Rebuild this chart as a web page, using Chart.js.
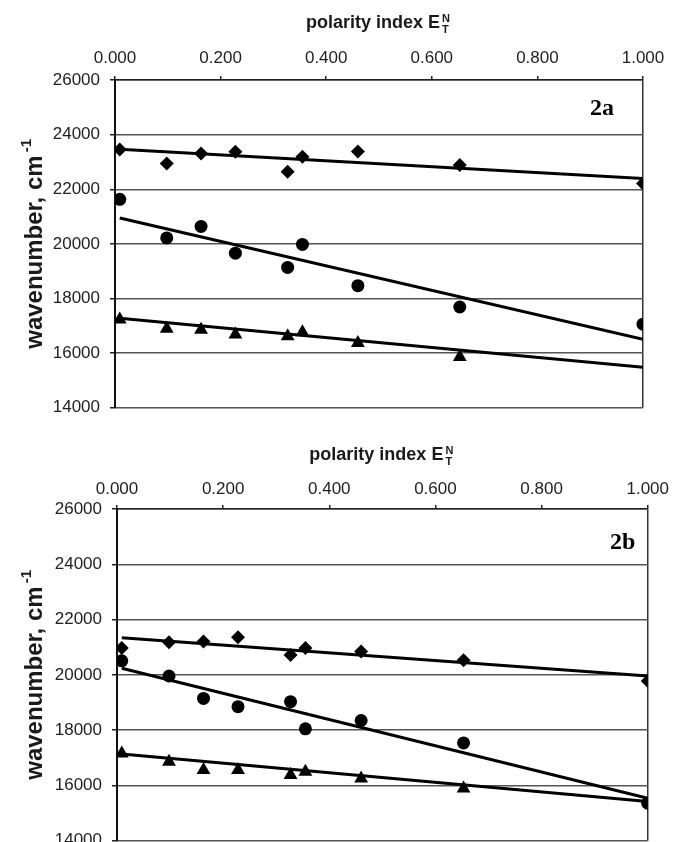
<!DOCTYPE html>
<html>
<head>
<meta charset="utf-8">
<script src="https://cdn.jsdelivr.net/npm/chart.js@4.4.1/dist/chart.umd.min.js"></script>
<style>
  html, body { margin: 0; padding: 0; background: #fff; }
  #wrap { position: relative; width: 674px; height: 842px; overflow: hidden; }
  canvas { position: absolute; left: 0; }
  #cA { top: 0; }
  #cB { top: 420px; }
</style>
</head>
<body>
<div id="wrap">
  <canvas id="cA" width="674" height="428"></canvas>
  <canvas id="cB" width="674" height="441"></canvas>
</div>
<script>
// ---- data ----
const polarity = [0.009, 0.098, 0.163, 0.228, 0.327, 0.355, 0.460, 0.653, 1.000];
const fitX = [0.009, 1.000];

// panel 2a
const diamondA  = [23460, 22940, 23310, 23370, 22640, 23190, 23380, 22890, 22210];
const circleA   = [21630, 20220, 20640, 19660, 19140, 19980, 18470, 17690, 17060];
const triangleA = [17230, 16890, 16860, 16680, 16620, 16770, 16370, 15860, null];
const fitDiamondA  = [23466, 22398];
const fitCircleA   = [20947, 16505];
const fitTriangleA = [17278, 15485];

// panel 2b
const diamondB  = [20970, 21180, 21210, 21360, 20720, 20970, 20850, 20530, 19780];
const circleB   = [20510, 19960, 19150, 18850, 19030, 18050, 18350, 17540, 15360];
const triangleB = [17160, 16860, 16560, 16560, 16380, 16500, 16250, 15890, null];
const fitDiamondB  = [21345, 19964];
const fitCircleB   = [20242, 15539];
const fitTriangleB = [17140, 15418];

const xTicks = [0, 0.2, 0.4, 0.6, 0.8, 1.0];
const yTicks = [14000, 16000, 18000, 20000, 22000, 24000, 26000];

const xTitleMain = 'polarity index E';
const xTitleSup = 'N';
const xTitleSub = 'T';
const yTitleMain = 'wavenumber, cm';
const yTitleSup = '-1';

// ---- helpers ----
function pts(xs, ys) {
  const out = [];
  xs.forEach((x, i) => { if (ys[i] !== null && ys[i] !== undefined) out.push({ x: x, y: ys[i] }); });
  return out;
}

function pointSet(xs, ys, style, radius) {
  return {
    data: pts(xs, ys), showLine: false, pointStyle: style,
    pointRadius: radius, pointHoverRadius: radius,
    backgroundColor: '#000', borderColor: '#000', borderWidth: 0
  };
}
function lineSet(ys) {
  return {
    data: pts(fitX, ys), showLine: true, pointRadius: 0,
    borderColor: '#000', borderWidth: 3, fill: false
  };
}

const FONT = '"Liberation Sans", Arial, sans-serif';

const textPlugin = {
  id: 'panelText',
  afterDraw(chart, args, opts) {
    const ctx = chart.ctx;
    const ca = chart.chartArea;
    ctx.save();
    ctx.fillStyle = '#1a1a1a';
    // x title with stacked superscript/subscript
    ctx.font = 'bold 18px ' + FONT;
    const wMain = ctx.measureText(xTitleMain).width;
    const total = wMain + 12;
    const cx = (ca.left + ca.right) / 2;
    const x0 = cx - total / 2;
    ctx.textBaseline = 'alphabetic';
    ctx.textAlign = 'left';
    ctx.fillText(xTitleMain, x0, opts.xTitleY);
    ctx.font = 'bold 11px ' + FONT;
    ctx.fillText(xTitleSup, x0 + wMain + 2, opts.xTitleY - 6);
    ctx.fillText(xTitleSub, x0 + wMain + 2, opts.xTitleY + 5);

    // y title rotated
    ctx.translate(opts.yTitleX, (ca.top + ca.bottom) / 2);
    ctx.rotate(-Math.PI / 2);
    ctx.font = 'bold 24px ' + FONT;
    const wy = ctx.measureText(yTitleMain).width;
    ctx.font = 'bold 15px ' + FONT;
    const ws = ctx.measureText(yTitleSup).width;
    const yStart = -(wy + ws + 3) / 2;
    ctx.font = 'bold 24px ' + FONT;
    ctx.textBaseline = 'alphabetic';
    ctx.fillText(yTitleMain, yStart, 9);
    ctx.font = 'bold 15px ' + FONT;
    ctx.fillText(yTitleSup, yStart + wy + 3, -2);
    ctx.setTransform(1, 0, 0, 1, 0, 0);

    // panel label
    ctx.font = 'bold 24px "Liberation Serif", "Times New Roman", serif';
    ctx.textAlign = 'left';
    ctx.textBaseline = 'middle';
    ctx.fillStyle = '#000';
    ctx.fillText(opts.label, opts.labelX, ca.top + opts.labelDy);
    ctx.restore();
  }
};

function makeChart(id, sets, cfg) {
  return new Chart(document.getElementById(id), {
    type: 'scatter',
    data: {
      datasets: [
        pointSet(polarity, sets.diamond, 'rectRot', 7),
        pointSet(polarity, sets.circle, 'circle', 6.5),
        pointSet(polarity, sets.triangle, 'triangle', 8),
        lineSet(sets.fitDiamond),
        lineSet(sets.fitCircle),
        lineSet(sets.fitTriangle)
      ]
    },
    options: {
      responsive: false,
      animation: false,
      devicePixelRatio: 1,
      layout: { padding: { left: 0, right: cfg.padRight, top: 0, bottom: 0 } },
      plugins: {
        legend: { display: false },
        tooltip: { enabled: false },
        panelText: { label: cfg.label, labelX: cfg.labelX, labelDy: cfg.labelDy, xTitleY: cfg.xTitleY, yTitleX: 33 }
      },
      scales: {
        x: {
          type: 'linear', position: 'top', min: 0, max: 1,
          afterFit(scale) { scale.height = cfg.xHeight; },
          afterBuildTicks(scale) { scale.ticks = xTicks.map(v => ({ value: v })); },
          ticks: {
            callback: v => Number(v).toFixed(3),
            color: '#222', padding: cfg.xPad, maxRotation: 0,
            font: { family: FONT, size: 17 }
          },
          grid: {
            drawOnChartArea: true, drawTicks: true, tickLength: 4,
            color: ctx => (ctx.tick && ctx.tick.value === 1) ? '#333' : 'rgba(0,0,0,0)',
            tickColor: '#222', lineWidth: 1.5
          },
          border: { display: true, color: '#222', width: 1.5 }
        },
        y: {
          type: 'linear', position: 'left', min: 14000, max: 26000,
          afterFit(scale) { scale.width = cfg.yWidth; },
          afterBuildTicks(scale) { scale.ticks = yTicks.map(v => ({ value: v })); },
          ticks: {
            callback: v => String(v),
            color: '#222', padding: 10,
            font: { family: FONT, size: 17 }
          },
          grid: {
            drawOnChartArea: true, drawTicks: true, tickLength: 5,
            color: '#555', tickColor: '#222', lineWidth: 1.5
          },
          border: { display: true, color: '#111', width: 2 }
        }
      }
    },
    plugins: [textPlugin]
  });
}

makeChart('cA', {
  diamond: diamondA, circle: circleA, triangle: triangleA,
  fitDiamond: fitDiamondA, fitCircle: fitCircleA, fitTriangle: fitTriangleA
}, { padRight: 31, xHeight: 80, yWidth: 115, xPad: 7, label: '2a', labelX: 590, labelDy: 29, xTitleY: 28 });

makeChart('cB', {
  diamond: diamondB, circle: circleB, triangle: triangleB,
  fitDiamond: fitDiamondB, fitCircle: fitCircleB, fitTriangle: fitTriangleB
}, { padRight: 25, xHeight: 89, yWidth: 117, xPad: 5, label: '2b', labelX: 610, labelDy: 34, xTitleY: 40 });
</script>
</body>
</html>
